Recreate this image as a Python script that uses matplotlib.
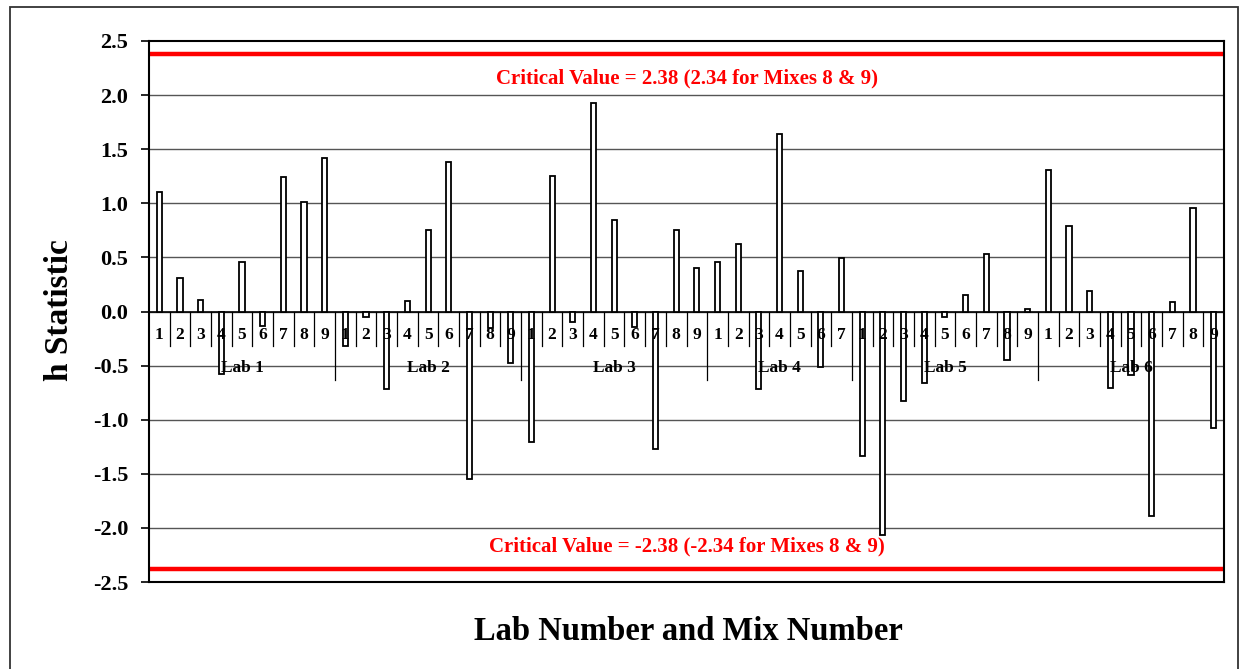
import matplotlib
matplotlib.use("Agg")
import matplotlib.pyplot as plt
from matplotlib.patches import Rectangle
import numpy as np

plt.rcParams['font.family'] = ['Liberation Serif', 'DejaVu Serif']
plt.rcParams['font.weight'] = 'bold'

# ---- data ----
lab_names = ['Lab 1', 'Lab 2', 'Lab 3', 'Lab 4', 'Lab 5', 'Lab 6']
mix_lab1 = ['1', '2', '3', '4', '5', '6', '7', '8', '9']
mix_lab2 = ['1', '2', '3', '4', '5', '6', '7', '8', '9']
mix_lab3 = ['1', '2', '3', '4', '5', '6', '7', '8', '9']
mix_lab4 = ['1', '2', '3', '4', '5', '6', '7']
mix_lab5 = ['1', '2', '3', '4', '5', '6', '7', '8', '9']
mix_lab6 = ['1', '2', '3', '4', '5', '6', '7', '8', '9']
h_lab1 = [1.10, 0.31, 0.11, -0.58, 0.46, -0.13, 1.24, 1.01, 1.42]
h_lab2 = [-0.32, -0.05, -0.72, 0.10, 0.75, 1.38, -1.55, -0.15, -0.48]
h_lab3 = [-1.21, 1.25, -0.10, 1.93, 0.85, -0.14, -1.27, 0.75, 0.40]
h_lab4 = [0.46, 0.62, -0.72, 1.64, 0.37, -0.51, 0.49]
h_lab5 = [-1.34, -2.07, -0.83, -0.66, -0.05, 0.15, 0.53, -0.45, 0.02]
h_lab6 = [1.31, 0.79, 0.19, -0.71, -0.59, -1.89, 0.09, 0.96, -1.08]
critical_value = 2.38
upper_text = 'Critical Value = 2.38 (2.34 for Mixes 8 & 9)'
lower_text = 'Critical Value = -2.38 (-2.34 for Mixes 8 & 9)'
y_ticks = [-2.5, -2.0, -1.5, -1.0, -0.5, 0.0, 0.5, 1.0, 1.5, 2.0, 2.5]

mix_groups = [mix_lab1, mix_lab2, mix_lab3, mix_lab4, mix_lab5, mix_lab6]
h_groups = [h_lab1, h_lab2, h_lab3, h_lab4, h_lab5, h_lab6]
mix_labels = [m for g in mix_groups for m in g]
h_values = [v for g in h_groups for v in g]
n = len(h_values)
x = np.arange(n)

fig = plt.figure(figsize=(12.39, 6.69), dpi=100)
ax = fig.add_axes([149 / 1239, 1 - 582 / 669, (1224 - 149) / 1239, (582 - 41) / 669])

ax.set_xlim(-0.5, n - 0.5)
ax.set_ylim(-2.5, 2.5)

# grid
for yt in y_ticks[1:-1]:
    ax.axhline(yt, color='#555555', lw=1.0, zorder=1)

# bars
ax.bar(x, h_values, width=0.25, color='white', edgecolor='black', linewidth=1.3, zorder=3)

# zero axis line
ax.axhline(0, color='black', lw=1.2, zorder=2)

# critical lines
ax.axhline(critical_value, color='#ff0000', lw=3.2, zorder=4)
ax.axhline(-critical_value, color='#ff0000', lw=3.2, zorder=4)
ax.text((n - 1) / 2, 2.15, upper_text, color='#ff0000', fontsize=15, fontweight='bold',
        ha='center', va='center', zorder=6)
ax.text((n - 1) / 2, -2.17, lower_text, color='#ff0000', fontsize=15, fontweight='bold',
        ha='center', va='center', zorder=6)

# category axis labels & dividers
start = 0
for name, mixes in zip(lab_names, mix_groups):
    k = len(mixes)
    for j, m in enumerate(mixes):
        ax.text(start + j, -0.22, m, fontsize=12.5, fontweight='bold', ha='center', va='center', zorder=6)
    for j in range(1, k):
        ax.plot([start + j - 0.5] * 2, [0, -0.32], color='black', lw=0.9, zorder=2)
    ax.text(start + (k - 1) / 2, -0.52, name, fontsize=12.5, fontweight='bold', ha='center', va='center', zorder=6)
    end = start + k
    if end < n:
        ax.plot([end - 0.5] * 2, [0, -0.63], color='black', lw=0.9, zorder=2)
    start = end

# axes styling
ax.set_xticks([])
ax.set_yticks(y_ticks)
ax.set_yticklabels([f'{v:.1f}' for v in y_ticks], fontsize=16, fontweight='bold')
ax.tick_params(axis='y', direction='out', length=6, width=1.2, pad=9)
for s in ax.spines.values():
    s.set_color('black')
    s.set_linewidth(1.5)
    s.set_zorder(5)

fig.text(60 / 1239, 1 - 310 / 669, 'h Statistic', rotation=90, fontsize=24, fontweight='bold',
         ha='center', va='center')
fig.text(688 / 1239, 1 - 632 / 669, 'Lab Number and Mix Number', fontsize=23.5, fontweight='bold',
         ha='center', va='center')

# outer chart border
fig.patches.append(Rectangle((10 / 1239, -0.05), 1228 / 1239, 1 - 7 / 669 + 0.05,
                             transform=fig.transFigure, fill=False, edgecolor='#333333',
                             linewidth=1.3, clip_on=False))

fig.savefig('out.png', dpi=100)
